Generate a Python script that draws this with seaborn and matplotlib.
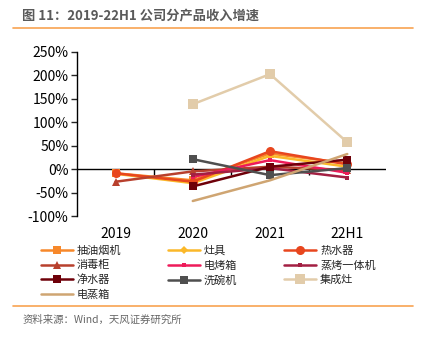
import matplotlib
matplotlib.use("Agg")
import matplotlib.pyplot as plt
import seaborn as sns
import numpy as np
import pandas as pd

categories = ["2019", "2020", "2021", "22H1"]
nan = np.nan
抽油烟机 = [-9, -24, 33, 12]
灶具 = [-10, -30, 28, 5]
热水器 = [-9, -27, 38, 10]
消毒柜 = [-27, -5, 5, -2]
电烤箱 = [nan, -17, 19, -8]
蒸烤一体机 = [nan, -12, 2, -18]
净水器 = [nan, -37, 5, 20]
洗碗机 = [nan, 21, -13, 2]
集成灶 = [nan, 138, 202, 57]
电蒸箱 = [nan, -68, -24, 32]

series_names = ["抽油烟机", "灶具", "热水器", "消毒柜", "电烤箱", "蒸烤一体机",
                "净水器", "洗碗机", "集成灶", "电蒸箱"]
series_values = [抽油烟机, 灶具, 热水器, 消毒柜, 电烤箱, 蒸烤一体机,
                 净水器, 洗碗机, 集成灶, 电蒸箱]
colors = ["#F7882A", "#FBB829", "#E8461E", "#B8402D", "#EE1B5A", "#A31F42",
          "#6E0009", "#4F4F4F", "#E2CCAA", "#CFA572"]
markers = ["s", "D", "o", "^", "s", "s", "s", "s", "s", None]
msizes = [6, 4.5, 6.5, 6, 3, 3, 6, 6, 7, 0]

sns.set_theme(style="white")
plt.rcParams["font.family"] = ["Noto Sans CJK SC", "DejaVu Sans"]
plt.rcParams["axes.unicode_minus"] = False

fig = plt.figure(figsize=(4.25, 3.44), dpi=100)
ax = fig.add_axes([0.181, 0.372, 0.727, 0.478])

handles = {}
for name, vals, c, m, ms in zip(series_names, series_values, colors, markers, msizes):
    df = pd.DataFrame({"x": np.arange(len(categories)), "y": vals}).dropna()
    kw = dict(marker=m, markersize=ms, markeredgewidth=0) if m else {}
    sns.lineplot(data=df, x="x", y="y", ax=ax, color=c, linewidth=1.8,
                 label=name, legend=False, **kw)
    handles[name] = ax.lines[-1]

ax.set_xlim(-0.5, 3.5)
ax.set_ylim(-100, 250)
ax.set_yticks(np.arange(-100, 251, 50))
ax.set_yticklabels([f"{v}%" for v in range(-100, 251, 50)], fontsize=10, color="#000000")
ax.set_xticks(range(len(categories)))
ax.set_xticklabels(categories, fontsize=10, color="#000000")
ax.tick_params(axis="x", length=0, pad=8)
ax.tick_params(axis="y", length=4, width=1, direction="out", left=True, pad=2)
ax.set_xlabel("")
ax.set_ylabel("")
for s in ["top", "right", "bottom"]:
    ax.spines[s].set_visible(False)
ax.spines["left"].set_color("#000000")
ax.spines["left"].set_linewidth(1)

# zero axis line with boundary ticks
ax.axhline(0, color="#000000", linewidth=1, zorder=0.5)
sec = ax.secondary_xaxis(100 / 350)
sec.set_xticks([0.5, 1.5, 2.5])
sec.set_xticklabels([])
sec.tick_params(axis="x", length=4, width=1, direction="out", color="#000000")
sec.spines["bottom"].set_visible(False)

order = ["抽油烟机", "消毒柜", "净水器", "电蒸箱", "灶具", "电烤箱", "洗碗机",
         "热水器", "蒸烤一体机", "集成灶"]
leg = fig.legend([handles[n] for n in order], order, ncol=3,
                 loc="upper left", bbox_to_anchor=(0.085, 0.298),
                 frameon=False, fontsize=8, handlelength=2.9, handletextpad=0.35,
                 columnspacing=4.2, labelspacing=0.38, borderaxespad=0)

fig.text(0.052, 0.955, "图 11：2019-22H1 公司分产品收入增速", fontsize=9.5,
         fontweight="bold", color="#5a5a5a", va="center", ha="left")
fig.add_artist(plt.Line2D([0.031, 0.972], [0.918, 0.918], color="#F8A352", linewidth=1.2))
fig.add_artist(plt.Line2D([0.031, 0.972], [0.11, 0.11], color="#F8A352", linewidth=1.2))
fig.text(0.052, 0.07, "资料来源：Wind，天风证券研究所", fontsize=7.5,
         color="#666666", va="center", ha="left")

fig.savefig("out.png", dpi=100)
